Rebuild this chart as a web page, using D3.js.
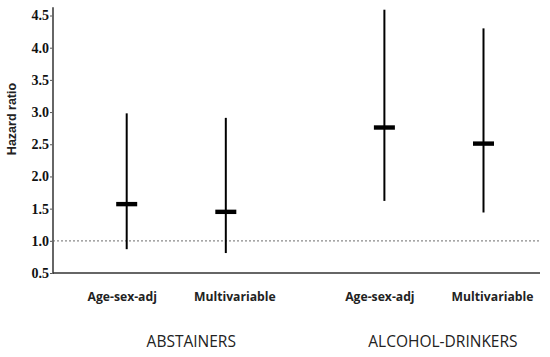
<!DOCTYPE html>
<html>
<head>
<meta charset="utf-8">
<script src="https://cdn.jsdelivr.net/npm/d3@7"></script>
<style>
  body { margin: 0; background: #fff; }
  svg { display: block; }
</style>
</head>
<body>
<svg></svg>
<script>
//	chart data
var models = ["Age-sex-adj", "Multivariable", "Age-sex-adj", "Multivariable"];
var groups = ["ABSTAINERS", "ALCOHOL-DRINKERS"];
var slot = [0, 1, 2.6, 3.6];          // x slot of each estimate
var hr = [1.57, 1.45, 2.76, 2.51];
var lower = [0.87, 0.81, 1.62, 1.44];
var upper = [2.98, 2.91, 4.59, 4.30];
var yTicks = [0.5, 1.0, 1.5, 2.0, 2.5, 3.0, 3.5, 4.0, 4.5];

var width = 550, height = 357;
var svg = d3.select("svg").attr("width", width).attr("height", height);

//	scales
var y = d3.scaleLinear().domain([0.5, 4.5]).range([273, 15.5]);
var x = d3.scaleLinear().domain([0, 3.6]).range([126.7, 483.5]);
var axisX = 53, axisRight = 540;

//	reference line at HR = 1
svg.append("line")
    .attr("x1", axisX).attr("x2", axisRight)
    .attr("y1", y(1)).attr("y2", y(1))
    .attr("stroke", "#8a8a8a")
    .attr("stroke-width", 1.2)
    .attr("stroke-dasharray", "2,2");

//	y axis
var yAxis = svg.append("g")
    .attr("transform", "translate(" + axisX + ",0)")
    .call(d3.axisLeft(y).tickValues(yTicks).tickFormat(d3.format(".1f")).tickSize(3).tickPadding(1));
yAxis.select(".domain").remove();
yAxis.selectAll(".tick line").attr("stroke", "#555");
yAxis.selectAll("text")
    .attr("fill", "#111")
    .style("font-family", "'Liberation Serif', 'DejaVu Serif', serif")
    .style("font-weight", "bold")
    .style("font-size", "14px");

svg.append("line")
    .attr("x1", axisX).attr("x2", axisX)
    .attr("y1", y(4.63)).attr("y2", y(0.5) + 1)
    .attr("stroke", "#666")
    .attr("stroke-width", 2);

//	x axis line
svg.append("line")
    .attr("x1", axisX).attr("x2", axisRight)
    .attr("y1", y(0.5)).attr("y2", y(0.5))
    .attr("stroke", "#333")
    .attr("stroke-width", 1.6);

svg.append("text")
    .attr("transform", "translate(16," + 119 + ") rotate(-90)")
    .attr("text-anchor", "middle")
    .style("font-family", "'Liberation Sans', Arial, sans-serif")
    .style("font-weight", "bold")
    .style("font-size", "12.5px")
    .attr("fill", "#222")
    .text("Hazard ratio");

//	confidence intervals
var est = models.map(function(m, i) {
    return {model: m, slot: slot[i], hr: hr[i], lo: lower[i], hi: upper[i]};
});

svg.append("g").selectAll("line")
    .data(est).enter().append("line")
    .attr("x1", function(d) { return x(d.slot); })
    .attr("x2", function(d) { return x(d.slot); })
    .attr("y1", function(d) { return y(d.hi); })
    .attr("y2", function(d) { return y(d.lo); })
    .attr("stroke", "#000")
    .attr("stroke-width", 2);

svg.append("g").selectAll("rect")
    .data(est).enter().append("rect")
    .attr("x", function(d) { return x(d.slot) - 10.5; })
    .attr("y", function(d) { return y(d.hr) - 2.2; })
    .attr("width", 21)
    .attr("height", 4.4)
    .attr("fill", "#000");

//	model labels (first of each pair sits a bit left, second a bit right)
svg.append("g").selectAll("text")
    .data(est).enter().append("text")
    .attr("x", function(d, i) { return x(d.slot) + (i % 2 ? 9 : -4.5); })
    .attr("y", 301)
    .attr("text-anchor", "middle")
    .style("font-family", "'Open Sans', 'Liberation Sans', sans-serif")
    .style("font-weight", "bold")
    .style("font-size", "12.2px")
    .attr("fill", "#222")
    .text(function(d) { return d.model; });

//	group labels
svg.append("g").selectAll("text")
    .data(groups).enter().append("text")
    .attr("x", function(d, i) { return (x(slot[2 * i]) + x(slot[2 * i + 1])) / 2 + (i ? 9 : 15); })
    .attr("y", 347)
    .attr("text-anchor", "middle")
    .style("font-family", "'Open Sans', 'Liberation Sans', sans-serif")
    .style("font-size", "15.5px")
    .attr("fill", "#222")
    .text(function(d) { return d; });
</script>
</body>
</html>
